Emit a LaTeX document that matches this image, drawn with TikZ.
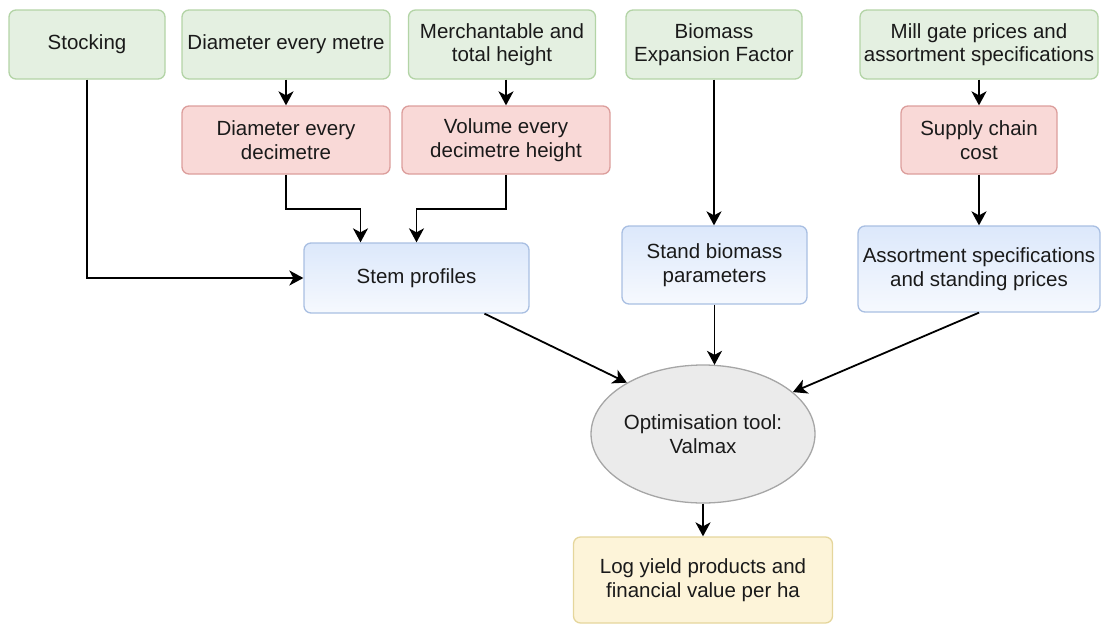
\documentclass[tikz,border=0pt]{standalone}
\usepackage{fontspec}
\setmainfont{Liberation Sans}
\usetikzlibrary{arrows.meta,shapes.geometric}

\definecolor{inkc}{HTML}{1A1A1A}
\definecolor{greenfill}{HTML}{E4F0E1}
\definecolor{greenline}{HTML}{B3D4A6}
\definecolor{redfill}{HTML}{F9D9D7}
\definecolor{redline}{HTML}{DC9E9C}
\definecolor{bluetop}{HTML}{DCE8FB}
\definecolor{bluebot}{HTML}{F6F9FE}
\definecolor{blueline}{HTML}{A9BFE2}
\definecolor{yellowfill}{HTML}{FDF4D9}
\definecolor{yellowline}{HTML}{E5D69C}
\definecolor{greyfill}{HTML}{EBEBEB}
\definecolor{greyline}{HTML}{A6A6A6}

\tikzset{
  every node/.style={font=\fontsize{20.5}{23.5}\selectfont, text=inkc, align=center},
  card/.style={rectangle, rounded corners=7pt, line width=1.3pt, inner sep=2pt},
  inputbox/.style={card, draw=greenline, fill=greenfill},
  derivedbox/.style={card, draw=redline, fill=redfill},
  modelbox/.style={card, draw=blueline, top color=bluetop, bottom color=bluebot},
  resultbox/.style={card, draw=yellowline, fill=yellowfill},
  toolnode/.style={ellipse, draw=greyline, fill=greyfill, line width=1.3pt, inner sep=0pt},
  arr/.style={draw=black, line width=1.8pt, -{Stealth[length=14pt,width=15pt,inset=4pt]}},
}

\begin{document}
\begin{tikzpicture}[x=1pt, y=-1pt]
  \useasboundingbox (0,0) rectangle (1102,624);

  % top row: measured inputs
  \node[inputbox, minimum width=156pt, minimum height=69pt] (stock) at (87,44.5) {Stocking};
  \node[inputbox, minimum width=208pt, minimum height=69pt] (dmet) at (286,44.5) {Diameter every metre};
  \node[inputbox, minimum width=187pt, minimum height=69pt] (merch) at (502,44.5) {Merchantable and\\total height};
  \node[inputbox, minimum width=176pt, minimum height=69pt] (bef) at (714,44.5) {Biomass\\Expansion Factor};
  \node[inputbox, minimum width=238pt, minimum height=69pt] (mill) at (979,44.5) {Mill gate prices and\\assortment specifications};

  % second row: derived quantities
  \node[derivedbox, minimum width=208pt, minimum height=68pt] (ddec) at (286,140) {Diameter every\\decimetre};
  \node[derivedbox, minimum width=208pt, minimum height=68pt] (vol) at (506,140) {Volume every\\decimetre height};
  \node[derivedbox, minimum width=156pt, minimum height=68pt] (supply) at (979,140) {Supply chain\\cost};

  % third row: model inputs
  \node[modelbox, minimum width=225pt, minimum height=70pt] (stem) at (416.5,278) {Stem profiles};
  \node[modelbox, minimum width=185pt, minimum height=78pt] (sbp) at (714.5,265) {Stand biomass\\parameters};
  \node[modelbox, minimum width=242pt, minimum height=86pt] (asp) at (979,269) {Assortment specifications\\and standing prices};

  % optimiser and result
  \node[toolnode, minimum width=209pt, minimum height=138pt] (opt) at (703,434) {Optimisation tool:\\Valmax};
  \node[resultbox, minimum width=259pt, minimum height=86pt] (log) at (703,580) {Log yield products and\\financial value per ha};

  % connectors
  \draw[arr] (stock.south) |- (stem.west);
  \draw[arr] (dmet) -- (ddec);
  \draw[arr] (vol.north |- merch.south) -- (vol.north);
  \draw[arr] (ddec.south) -- ++(0,34) -| ([xshift=-56pt]stem.north);
  \draw[arr] (vol.south) -- ++(0,34) -| (stem.north);
  \draw[arr] (bef.south) -- (sbp.north -| bef.south);
  \draw[arr] (mill) -- (supply);
  \draw[arr] (supply) -- (asp);
  \draw[arr] ([xshift=68pt]stem.south) -- (opt.146);
  \draw[arr] (sbp.south) -- ([yshift=-0.5pt]sbp.south |- opt.north);
  \draw[arr] (asp.south) -- (opt.25);
  \draw[arr] (opt.south) -- (log.north);
\end{tikzpicture}
\end{document}
